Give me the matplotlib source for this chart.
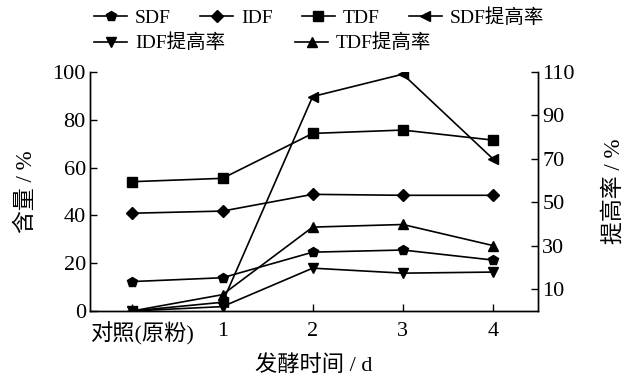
import matplotlib
matplotlib.use("Agg")
import matplotlib.pyplot as plt
from matplotlib.transforms import ScaledTranslation

plt.rcParams["font.family"] = ["Liberation Serif", "Noto Sans CJK SC"]
plt.rcParams["font.size"] = 13

# fermentation days (index 0 = control / raw flour)
days = [0, 1, 2, 3, 4]
day_labels = ["对照(原粉)", "1", "2", "3", "4"]

# dietary fibre content, %
sdf = [12.3, 13.9, 24.6, 25.5, 21.3]
idf = [40.9, 41.8, 48.8, 48.4, 48.4]
tdf = [54.1, 55.5, 74.3, 75.7, 71.5]

# increase rate relative to control, %
sdf_rate = [0.0, 4.0, 98.7, 109.0, 70.0]
idf_rate = [0.0, 2.0, 19.7, 17.4, 17.9]
tdf_rate = [0.0, 7.5, 38.6, 39.8, 30.1]

fig = plt.figure(figsize=(6.36, 3.76), dpi=100)
ax = fig.add_axes([0.1415, 0.173, 0.7045, 0.6355])
ax2 = ax.twinx()

style = dict(color="black", lw=1.2, ms=7.5)
l1, = ax.plot(days, sdf, marker="p", label="SDF", **style)
l2, = ax.plot(days, idf, marker="D", label="IDF", **dict(style, ms=6))
l3, = ax.plot(days, tdf, marker="s", label="TDF", **style)
l4, = ax2.plot(days, sdf_rate, marker="<", label="SDF提高率", **style)
l5, = ax2.plot(days, idf_rate, marker="v", label="IDF提高率", **style)
l6, = ax2.plot(days, tdf_rate, marker="^", label="TDF提高率", **style)

ax.set_xlim(-0.47, 4.5)
ax.set_ylim(0, 100)
ax2.set_ylim(0, 110)
ax.set_xticks(days)
ax.set_xticklabels(day_labels)
ax.set_yticks(range(0, 101, 20))
ax2.set_yticks(range(10, 111, 20))

for a in (ax, ax2):
    a.spines["top"].set_visible(False)
    for s in a.spines.values():
        s.set_linewidth(1.0)
    a.tick_params(direction="in", length=5, width=1.0, labelsize=16, pad=3)
ax.tick_params(axis="x", pad=8)

# nudge the long control label right so it clears the "0" tick label
first = ax.get_xticklabels()[0]
first.set_transform(first.get_transform() + ScaledTranslation(0.11, 0, fig.dpi_scale_trans))

ax.set_ylabel("含量 / %", fontsize=16.5, labelpad=11)
ax2.set_ylabel("提高率 / %", fontsize=16.5, labelpad=20)
ax.set_xlabel("发酵时间 / d", fontsize=16, labelpad=7)

leg_kw = dict(loc="upper left", frameon=False, fontsize=14, handlelength=1.7,
              handletextpad=0.4, borderpad=0, borderaxespad=0)
leg1 = fig.legend(handles=[l1, l2, l3, l4], ncol=4, columnspacing=1.5,
                  bbox_to_anchor=(0.148, 0.978), **leg_kw)
leg2 = fig.legend(handles=[l5, l6], ncol=2, columnspacing=3.6,
                  bbox_to_anchor=(0.148, 0.91), **leg_kw)

fig.savefig("out.png", dpi=100)
